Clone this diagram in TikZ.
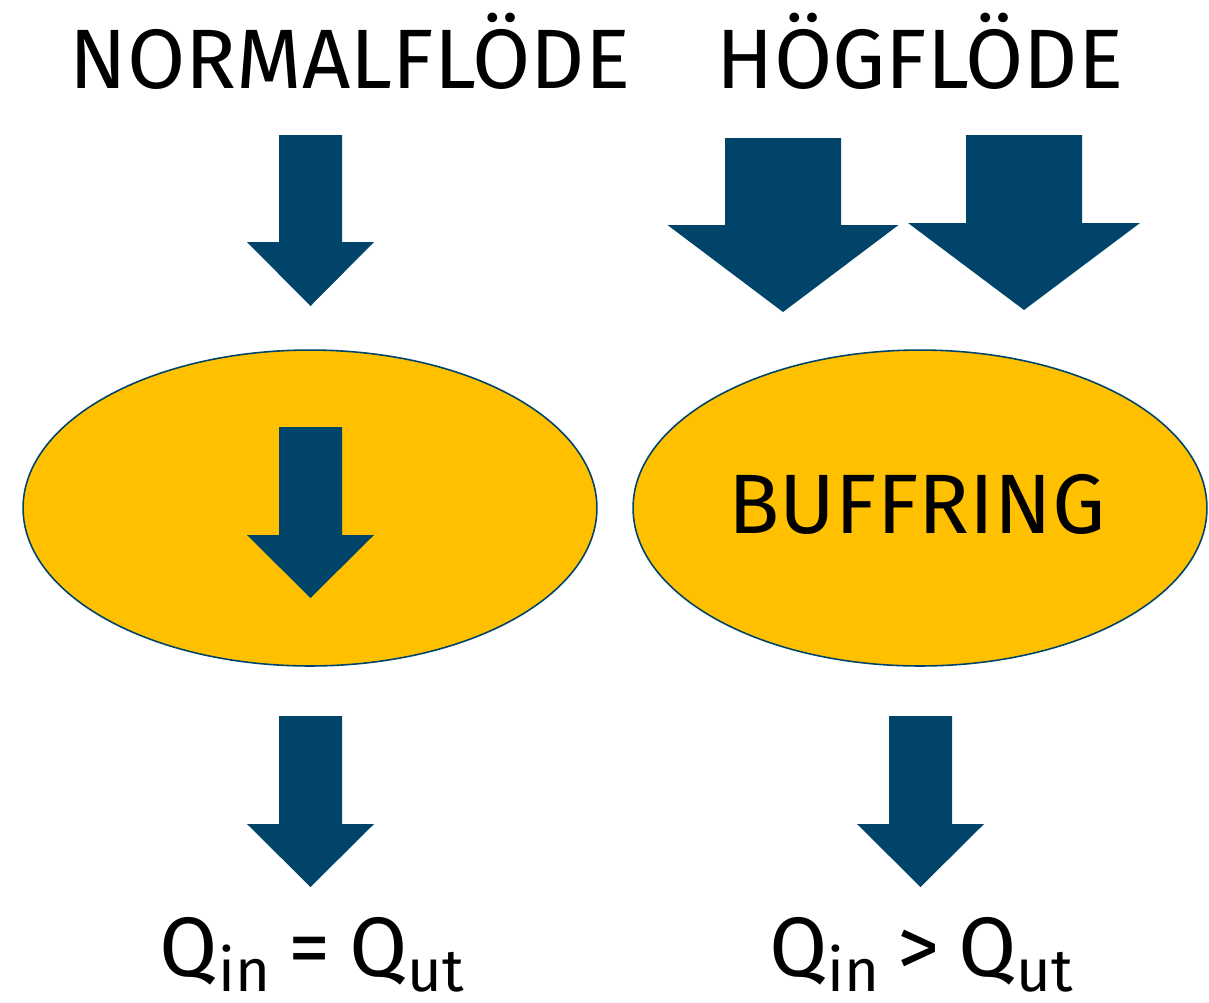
\documentclass[tikz,border=0pt]{standalone}
\usepackage{fontspec}
\setmainfont{Fira Sans}
\usetikzlibrary{shapes.geometric}

\definecolor{flowblue}{RGB}{0,68,106}
\definecolor{poolgold}{RGB}{255,192,0}

% block arrow: centre x, top, half shaft, shoulder y, half head, tip y
\newcommand{\flowarrow}[6]{%
  \fill[flowblue] ({#1-#3},#2) -- ({#1+#3},#2) -- ({#1+#3},#4) -- ({#1+#5},#4)
    -- (#1,#6) -- ({#1-#5},#4) -- ({#1-#3},#4) -- cycle;}
\newcommand{\sbs}[1]{\raisebox{-9pt}{\fontsize{34}{40}\selectfont #1}}

\begin{document}
\begin{tikzpicture}[x=0.02cm, y=-0.02cm]
	\tikzset{pool/.style={ellipse, draw=flowblue, line width=0.9pt, fill=poolgold,
			minimum width=11.48cm, minimum height=6.32cm, inner sep=0pt},
		big/.style={font=\fontsize{48}{58}\selectfont, anchor=base, inner sep=0pt}};
	\useasboundingbox (0,0) rectangle (1209,1002);

	\node[big] (normtitle) at (350,88) {NORMALFLÖDE};
	\node[big] (hogtitle) at (920,88) {HÖGFLÖDE};

	\node[pool] (normal) at (310,508) {};
	\node[pool] (hog) at (920,508) {};
	\node[big] (buffring) at (917,533) {BUFFRING};

	% inflow
	\flowarrow{310.5}{135}{31.5}{242}{63.5}{306}
	\flowarrow{783}{138}{58}{225}{115.5}{312}
	\flowarrow{1024}{135}{58}{223}{116}{310}
	% through the pool
	\flowarrow{310.5}{427}{31.5}{535}{63.5}{598}
	% outflow
	\flowarrow{310.5}{716}{31.5}{824}{63.5}{887}
	\flowarrow{920.5}{716}{31.5}{824}{63.5}{887}

	\node[big] (normq) at (312,976) {Q\sbs{in}\hspace{0.22em}=\hspace{0.22em}Q\sbs{ut}};
	\node[big] (hogq) at (921,976) {Q\sbs{in}\hspace{0.22em}>\hspace{0.22em}Q\sbs{ut}};
\end{tikzpicture}
\end{document}
